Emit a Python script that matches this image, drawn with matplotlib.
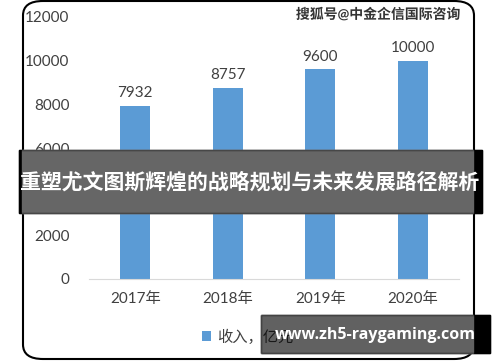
import matplotlib
matplotlib.use("Agg")
import matplotlib.pyplot as plt
from matplotlib.patches import Rectangle, FancyBboxPatch
import matplotlib.patheffects as pe

years = ["2017年", "2018年", "2019年", "2020年"]
income = [7932, 8757, 9600, 10000]
yticks = [0, 2000, 4000, 6000, 8000, 10000, 12000]
series_name = "收入，亿元"
banner_title = "重塑尤文图斯辉煌的战略规划与未来发展路径解析"
watermark = "搜狐号@中金企信国际咨询"
site = "www.zh5-raygaming.com"

W, H = 500, 362
plt.rcParams["font.family"] = ["Lato", "Noto Sans CJK SC", "DejaVu Sans"]

fig = plt.figure(figsize=(W / 100, H / 100), dpi=100)


def fx(x):
    return x / W


def fy(y):
    return 1 - y / H


# rounded outer frame
frame = FancyBboxPatch((fx(23), fy(359)), fx(451), (358 / H),
                       boxstyle="round,pad=0,rounding_size=0.04",
                       transform=fig.transFigure, fill=False,
                       edgecolor="black", linewidth=1.5, zorder=1)
fig.patches.append(frame)

ax = fig.add_axes([fx(89), fy(279), fx(459) - fx(89), fy(17) - fy(279)])
bars = ax.bar(years, income, width=0.32, color="#5B9BD5", label=series_name,
              zorder=2)
ax.set_xlim(-0.5, 3.5)
ax.set_ylim(0, 12000)
ax.set_yticks(yticks)
ax.set_yticklabels([str(v) for v in yticks])
for s in ["top", "right", "left"]:
    ax.spines[s].set_visible(False)
ax.spines["bottom"].set_color("#D9D9D9")
ax.tick_params(axis="both", length=0, labelsize=11, labelcolor="#404040")
ax.tick_params(axis="y", pad=14)
ax.tick_params(axis="x", pad=9)
for b, v in zip(bars, income):
    ax.text(b.get_x() + b.get_width() / 2, v + 250, str(v), ha="center",
            va="bottom", fontsize=11, color="#404040")

leg = fig.legend(loc="center", bbox_to_anchor=(fx(248), fy(337)),
                 frameon=False, fontsize=11, handlelength=0.6,
                 handleheight=0.6, handletextpad=0.4)
for t in leg.get_texts():
    t.set_color("#404040")

# watermark top right
fig.text(fx(378), fy(14), watermark, ha="center", va="center", fontsize=10,
         color="#333333", fontweight="bold",
         path_effects=[pe.withStroke(linewidth=2, foreground="white")])

# dark banner across middle
fig.patches.append(Rectangle((fx(19), fy(213)), fx(463), 63 / H,
                             transform=fig.transFigure, color="black",
                             zorder=5))
fig.patches.append(Rectangle((fx(22), fy(213)), fx(451), 63 / H,
                             transform=fig.transFigure, color="white",
                             zorder=5))
fig.patches.append(Rectangle((fx(19), fy(213)), fx(463), 63 / H,
                             transform=fig.transFigure, color="black",
                             alpha=0.6, zorder=6))
fig.text(fx(250), fy(182), banner_title, ha="center", va="center",
         fontsize=15, color="white", fontweight="bold",
         family=["Noto Sans CJK SC", "DejaVu Sans"], zorder=7)

# site box bottom right
fig.patches.append(Rectangle((fx(261), fy(353)), fx(229), 38 / H,
                             transform=fig.transFigure, color="black",
                             zorder=5))
fig.patches.append(Rectangle((fx(261), fy(353)), fx(212), 38 / H,
                             transform=fig.transFigure, color="white",
                             zorder=5))
fig.patches.append(Rectangle((fx(261), fy(353)), fx(229), 38 / H,
                             transform=fig.transFigure, color="black",
                             alpha=0.62, zorder=6))
fig.text(fx(375), fy(335), site, ha="center", va="center", fontsize=11.5,
         color="white", fontweight="bold", family=["Open Sans", "DejaVu Sans"],
         zorder=7)

fig.savefig("out.png", dpi=100)
